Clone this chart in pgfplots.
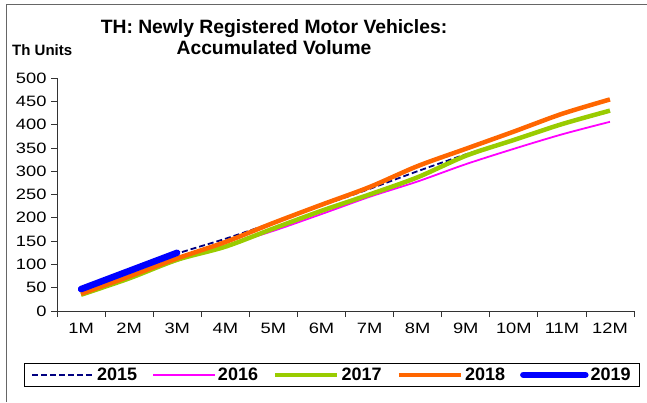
\documentclass[border=0pt]{standalone}
\usepackage{fontspec}
\setmainfont{Liberation Sans}
\newfontfamily\tickfont{Liberation Sans}[FakeStretch=1.22]
\usepackage{pgfplots}
\pgfplotsset{compat=1.18}

\definecolor{c2015}{HTML}{000080}
\definecolor{c2016}{HTML}{FF00FF}
\definecolor{c2017}{HTML}{99CC00}
\definecolor{c2018}{HTML}{FF6600}
\definecolor{c2019}{HTML}{0000FF}

\begin{document}
\begin{tikzpicture}[x=1bp,y=1bp]
\useasboundingbox (0,0) rectangle (647,402);
% outer chart frame (left and top edges visible)
\draw[gray!80!black,line width=0.8bp] (6,0) -- (6,398) -- (647,398);

\node[font=\fontsize{19.3bp}{21.5bp}\selectfont\bfseries,align=center] at (274,365)
  {TH: Newly Registered Motor Vehicles:\\Accumulated Volume};
\node[font=\fontsize{15bp}{18bp}\selectfont\bfseries,anchor=base west,inner sep=0] at (12,347) {Th Units};

\begin{axis}[
    at={(57bp,91bp)}, anchor=south west,
    scale only axis, width=577bp, height=233bp,
    xmin=0.5, xmax=12.5, ymin=0, ymax=500,
    axis lines*=left, axis line style={-, black!80, line width=0.8bp},
    tick align=outside,
    ytick={0,50,...,500},
    major tick length=6bp, minor tick length=6bp,
    every tick/.style={black!80, line width=0.8bp},
    xtick={1,...,12},
    xticklabels={1M,2M,3M,4M,5M,6M,7M,8M,9M,10M,11M,12M},
    major x tick style={draw=none},
    minor xtick={0.5,1.5,...,12.5},
    tick label style={font=\tickfont\fontsize{15bp}{18bp}\selectfont},
    xticklabel style={yshift=-3bp},
    yticklabel style={xshift=-1bp},
    /pgf/number format/assume math mode=true,
    legend columns=5,
    legend style={at={(axis description cs:0.4766,-0.223)}, anchor=north,
        draw=black, line width=0.8bp, font=\fontsize{18bp}{20bp}\selectfont\bfseries,
        inner xsep=7bp, inner ysep=2.5bp,
        /tikz/every even column/.append style={column sep=13bp},
        /tikz/every odd column/.append style={column sep=0bp}},
    legend image code/.code={\draw[#1] (0bp,0bp) -- (62bp,0bp);},
    legend cell align=left,
]
\addplot[color=c2015, line width=1.8bp, dash pattern=on 6bp off 3bp, smooth] coordinates {
 (1,44) (2,84) (3,123) (4,155) (5,190) (6,226) (7,262) (8,300) (9,336) (10,368) (11,400) (12,428)};
\addplot[color=c2016, line width=1.8bp, smooth] coordinates {
 (1,36) (2,70) (3,108) (4,140) (5,172) (6,208) (7,245) (8,278) (9,315) (10,348) (11,379) (12,406)};
\addplot[color=c2017, line width=4.5bp, smooth] coordinates {
 (1,35) (2,70) (3,110) (4,138) (5,177) (6,215) (7,250) (8,287) (9,333) (10,367) (11,401) (12,430)};
\addplot[color=c2018, line width=4.5bp, smooth] coordinates {
 (1,37) (2,74) (3,113) (4,148) (5,189) (6,228) (7,266) (8,311) (9,348) (10,385) (11,423) (12,454)};
\addplot[color=c2019, line width=6.5bp, smooth, line cap=round] coordinates {
 (1,47) (2,86) (3,125)};
\legend{2015,2016,2017,2018,2019}
\end{axis}
\end{tikzpicture}
\end{document}
